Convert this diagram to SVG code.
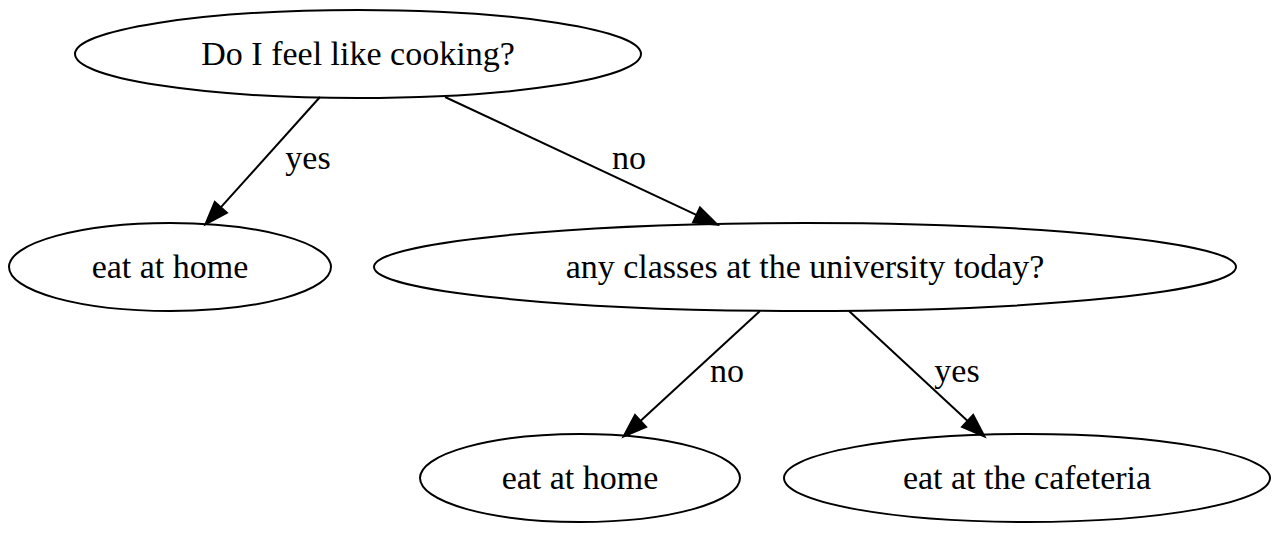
<svg xmlns="http://www.w3.org/2000/svg" width="1280" height="533" viewBox="0 0 1280 533">
<style>
.node ellipse{fill:none;stroke:#000;stroke-width:2}
text{font-family:"Liberation Serif","Times New Roman",serif;font-size:34px;fill:#000;text-anchor:middle}
.edge line{stroke:#000;stroke-width:2;fill:none}
</style>
<defs>
<marker id="arr" markerUnits="userSpaceOnUse" markerWidth="26" markerHeight="20" refX="0" refY="9" orient="auto" overflow="visible">
<path d="M0,0.5 L24,9 L0,17.5 Z" fill="#000" stroke="#000" stroke-width="1.5"/>
</marker>
</defs>
<rect width="1280" height="533" fill="#fff"/>
<g id="edges" class="edge">
<line x1="320" y1="97" x2="221.0" y2="207.1" marker-end="url(#arr)"/>
<text x="308" y="169">yes</text>
<line x1="445" y1="97" x2="696.3" y2="214.8" marker-end="url(#arr)"/>
<text x="629" y="169">no</text>
<line x1="760" y1="311" x2="640.7" y2="420.8" marker-end="url(#arr)"/>
<text x="727" y="382">no</text>
<line x1="849" y1="311" x2="967.4" y2="420.7" marker-end="url(#arr)"/>
<text x="957" y="382">yes</text>
</g>
<g id="n1" class="node"><ellipse cx="358" cy="54" rx="283" ry="44"/><text x="358" y="65">Do I feel like cooking?</text></g>
<g id="n2" class="node"><ellipse cx="170" cy="267" rx="161" ry="44"/><text x="170" y="278">eat at home</text></g>
<g id="n3" class="node"><ellipse cx="805" cy="267" rx="431" ry="44"/><text x="805" y="278">any classes at the university today?</text></g>
<g id="n4" class="node"><ellipse cx="580" cy="478" rx="160" ry="44"/><text x="580" y="489">eat at home</text></g>
<g id="n5" class="node"><ellipse cx="1027" cy="478" rx="243" ry="44"/><text x="1027" y="489">eat at the cafeteria</text></g>
</svg>
